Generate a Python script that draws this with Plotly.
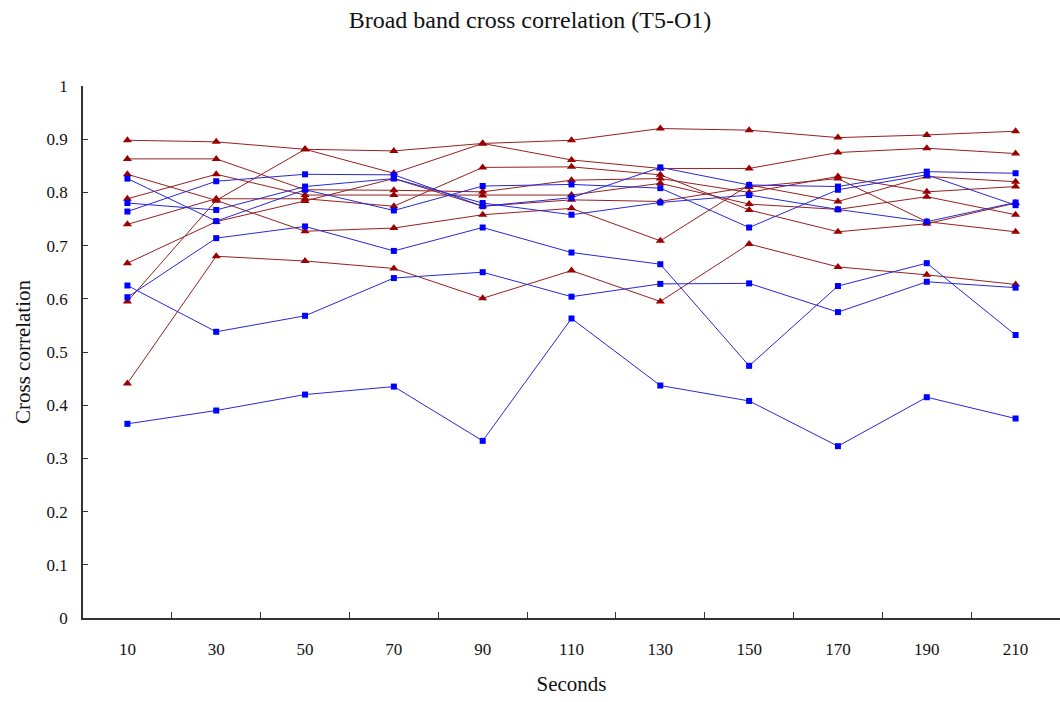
import plotly.graph_objects as go

seconds = ["10", "30", "50", "70", "90", "110", "130", "150", "170", "190", "210"]

# dark red series (triangles)
red_a = [0.898, 0.895, 0.881, 0.878, 0.892, 0.898, 0.920, 0.917, 0.903, 0.908, 0.915]
red_s = [0.595, 0.785, 0.881, 0.836, 0.892, 0.861, 0.845, 0.845, 0.875, 0.883, 0.873]
red_b = [0.863, 0.863, 0.805, 0.804, 0.801, 0.823, 0.826, 0.800, 0.830, 0.801, 0.811]
red_c = [0.834, 0.785, 0.727, 0.733, 0.758, 0.770, 0.709, 0.814, 0.783, 0.830, 0.820]
red_d = [0.788, 0.834, 0.795, 0.795, 0.794, 0.795, 0.817, 0.778, 0.768, 0.792, 0.758]
red_e = [0.740, 0.788, 0.788, 0.774, 0.847, 0.848, 0.833, 0.767, 0.726, 0.741, 0.780]
red_f = [0.667, 0.745, 0.784, 0.826, 0.774, 0.786, 0.783, 0.810, 0.826, 0.745, 0.726]
red_h = [0.441, 0.680, 0.671, 0.657, 0.601, 0.653, 0.595, 0.703, 0.660, 0.645, 0.627]

# blue series (squares)
blue_t1 = [0.764, 0.821, 0.834, 0.833, 0.774, 0.790, 0.847, 0.814, 0.811, 0.839, 0.836]
blue_t2 = [0.826, 0.746, 0.805, 0.766, 0.812, 0.815, 0.808, 0.734, 0.805, 0.833, 0.776]
blue_t3 = [0.780, 0.767, 0.811, 0.826, 0.780, 0.758, 0.781, 0.795, 0.768, 0.745, 0.781]
blue_p = [0.603, 0.714, 0.736, 0.690, 0.734, 0.687, 0.665, 0.474, 0.624, 0.667, 0.532]
blue_q = [0.625, 0.538, 0.568, 0.639, 0.650, 0.604, 0.628, 0.629, 0.575, 0.632, 0.621]
blue_l = [0.365, 0.390, 0.420, 0.435, 0.333, 0.563, 0.437, 0.408, 0.323, 0.415, 0.375]

red_series = [red_a, red_s, red_b, red_c, red_d, red_e, red_f, red_h]
blue_series = [blue_t1, blue_t2, blue_t3, blue_p, blue_q, blue_l]

y_ticks = [0, 0.1, 0.2, 0.3, 0.4, 0.5, 0.6, 0.7, 0.8, 0.9, 1]
y_tick_text = ["0", "0.1", "0.2", "0.3", "0.4", "0.5", "0.6", "0.7", "0.8", "0.9", "1"]

fig = go.Figure()
for s in red_series:
    fig.add_trace(go.Scatter(
        x=seconds, y=s, mode="lines+markers",
        line=dict(color="#962020", width=1),
        marker=dict(symbol="triangle-up", size=8, color="#9B0000"),
        showlegend=False,
    ))
for s in blue_series:
    fig.add_trace(go.Scatter(
        x=seconds, y=s, mode="lines+markers",
        line=dict(color="#2828D8", width=1),
        marker=dict(symbol="square", size=6, color="#0000FF"),
        showlegend=False,
    ))

serif = "Liberation Serif, Times New Roman, serif"
fig.update_layout(
    width=1060, height=702,
    margin=dict(l=83, r=0, t=86, b=84),
    paper_bgcolor="white", plot_bgcolor="white",
    font=dict(family=serif, color="#111111", size=17),
    title=dict(text="Broad band cross correlation (T5-O1)", x=0.5, xanchor="center",
               y=0.972, yanchor="middle", font=dict(family=serif, size=24, color="#111111")),
    xaxis=dict(
        type="category", range=[-0.5, 10.5], showgrid=False, zeroline=False,
        showline=True, linecolor="#333333", linewidth=1.5,
        ticks="inside", ticklen=6, tickcolor="#333333", tickson="boundaries",
        ticklabelstandoff=15, tickfont=dict(family=serif, size=17),
        title=dict(text="Seconds", standoff=18, font=dict(family=serif, size=21)),
    ),
    yaxis=dict(
        range=[0, 1], showgrid=False, zeroline=False,
        showline=True, linecolor="#333333", linewidth=1.5,
        ticks="inside", ticklen=5, tickcolor="#333333",
        tickvals=y_ticks, ticktext=y_tick_text, ticklabelstandoff=10,
        tickfont=dict(family=serif, size=17),
        title=dict(text="Cross correlation", standoff=10, font=dict(family=serif, size=21)),
    ),
)

fig.write_html("out.html")
